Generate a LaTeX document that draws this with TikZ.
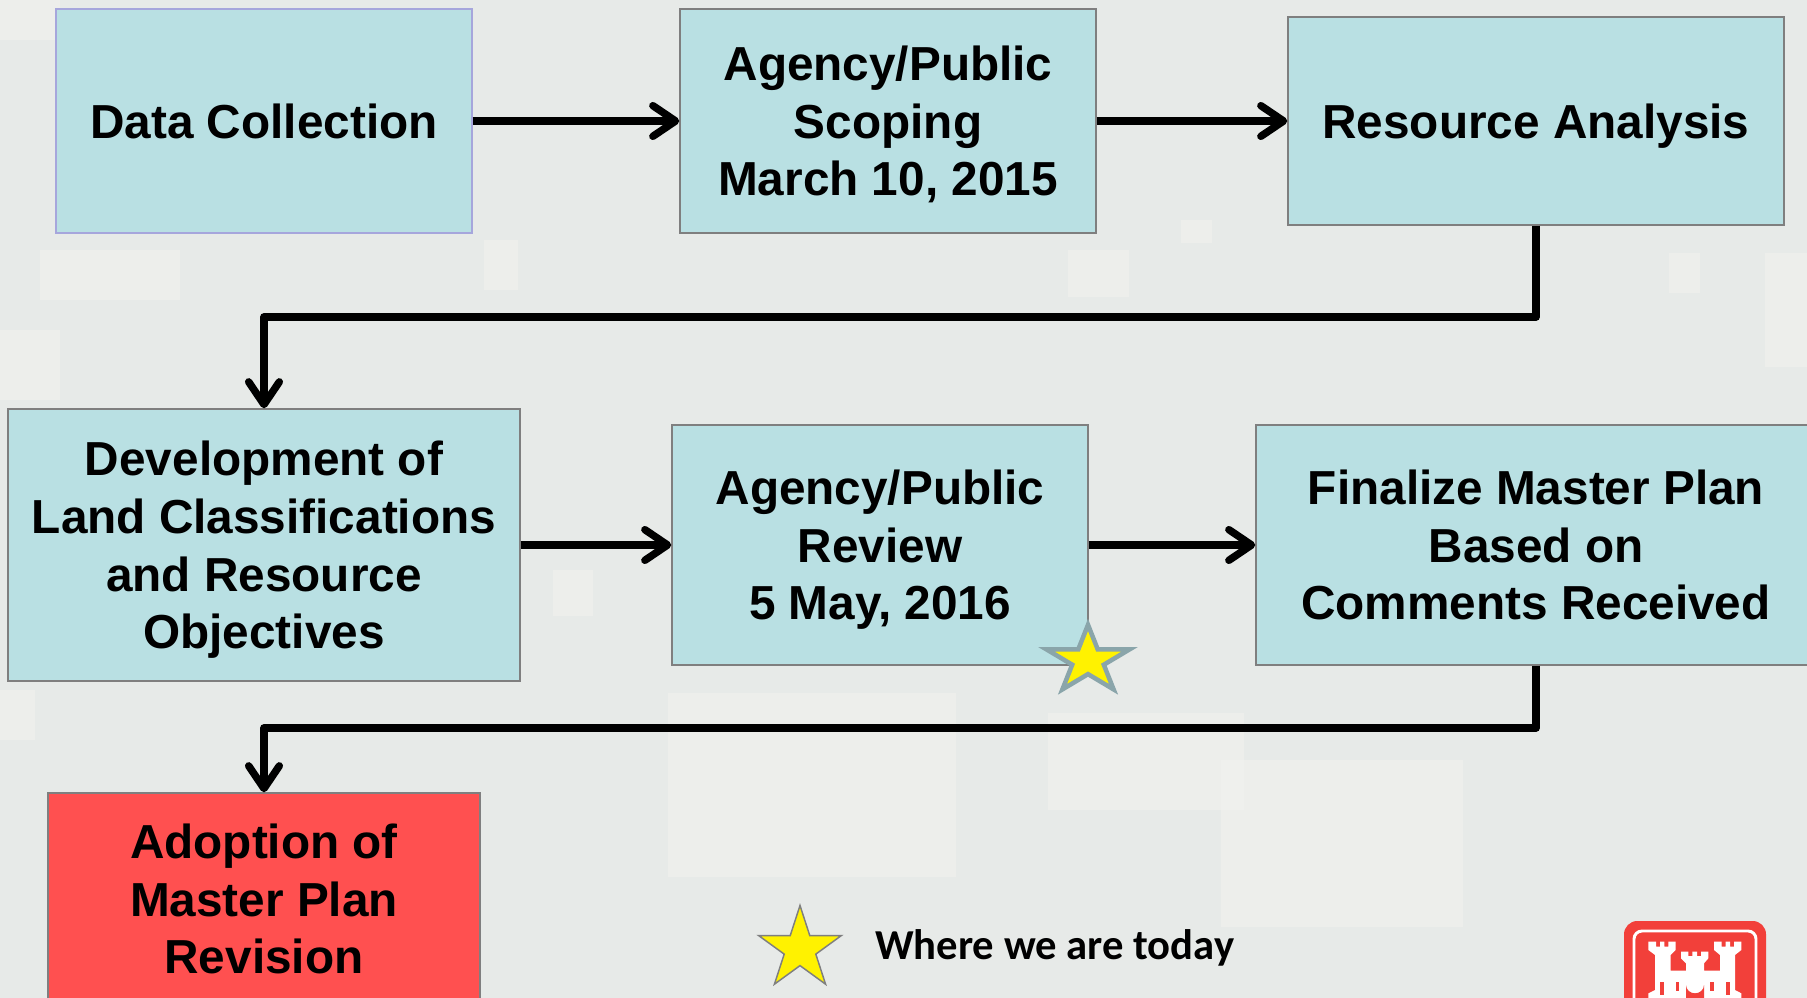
\documentclass[tikz,border=0pt]{standalone}
\usepackage{fontspec}
\setmainfont{Liberation Sans}
\newfontfamily\legendfont{Carlito}
\usetikzlibrary{shapes.geometric, arrows.meta, positioning}
\definecolor{boxblue}{HTML}{B9E0E3}
\definecolor{boxred}{HTML}{FF5050}
\definecolor{boxedge}{HTML}{7F7F7F}
\definecolor{firstedge}{HTML}{A6A6DC}
\definecolor{camobase}{HTML}{E7EAE8}
\definecolor{camolight}{HTML}{F2F3EF}
\definecolor{starteal}{HTML}{8AA5AA}
\definecolor{castlered}{HTML}{F2403A}

\begin{document}
\begin{tikzpicture}[x=0.75pt,y=-0.75pt]
\useasboundingbox (0,0) rectangle (1807,998);
\clip (0,0) rectangle (1807,998);
\tikzset{
    stepbox/.style={shape=rectangle, draw=boxedge, line width=1.1pt, fill=boxblue,
        align=center, inner sep=0pt, text depth=-2pt, font=\fontsize{35.8}{43.2}\selectfont\bfseries},
    flowline/.style={draw=black, line width=5.6pt, line join=round,
        -{Straight Barb[round,length=17pt,width=23pt]}},
    todaystar/.style={shape=star, star points=5, star point ratio=2.618, inner sep=0pt, outer sep=0pt, fill=yellow}
}

% background
\fill[camobase] (0,0) rectangle (1807,998);
\foreach \xa/\ya/\xb/\yb in {668/693/956/877, 1048/713/1244/810, 1221/760/1463/927, 0/690/35/740,
    1068/250/1129/297, 1765/253/1807/367, 1669/253/1700/293, 484/240/518/290, 1181/220/1212/243,
    0/330/60/400, 553/570/593/616, 40/250/180/300, 0/0/60/40}
    \fill[camolight, fill opacity=0.55] (\xa,\ya) rectangle (\xb,\yb);

\node[stepbox, draw=firstedge, minimum width=416*0.75pt, minimum height=224*0.75pt] (data) at (264,121) {Data Collection};
\node[stepbox, minimum width=416*0.75pt, minimum height=224*0.75pt] (scoping) at (888,121) {Agency/Public\\Scoping\\March 10, 2015};
\node[stepbox, minimum width=496*0.75pt, minimum height=208*0.75pt] (resource) at (1536,121) {Resource Analysis};
\node[stepbox, minimum width=512*0.75pt, minimum height=272*0.75pt] (landclass) at (264,545) {Development of\\Land Classifications\\and Resource\\Objectives};
\node[stepbox, minimum width=416*0.75pt, minimum height=240*0.75pt] (review) at (880,545) {Agency/Public\\Review\\5 May, 2016};
\node[stepbox, minimum width=560*0.75pt, minimum height=240*0.75pt] (finalize) at (1536,545) {Finalize Master Plan\\Based on\\Comments Received};
\node[stepbox, fill=boxred, text depth=0pt, minimum width=432*0.75pt, minimum height=212*0.75pt] (adoption) at (264,899) {Adoption of\\Master Plan\\Revision};

\draw[flowline] (data.east) -- (scoping.west);
\draw[flowline] (scoping.east) -- (resource.west);
\draw[flowline] (resource.south) -- (resource.south |- 0,317) -| (landclass.north);
\draw[flowline] (landclass.east) -- (review.west);
\draw[flowline] (review.east) -- (finalize.west);
\draw[flowline] (finalize.south) -- (finalize.south |- 0,728) -| (adoption.north);

\node[todaystar, draw=starteal, line width=3.4pt, minimum size=87*0.75pt, yscale=0.82, transform shape] (reviewstar) at (1088,660.5) {};
\node[todaystar, draw=boxedge, line width=1.1pt, minimum size=87*0.75pt] (legendstar) at (800,949) {};
\node[font=\legendfont\fontsize{32}{38}\selectfont\bfseries, inner sep=0pt, anchor=west] (legend) at (875,948) {Where we are today};

% castle
\fill[castlered, rounded corners=10pt] (1624,921) rectangle (1766,1040);
\draw[white, line width=2.2pt, rounded corners=6pt] (1634,931) rectangle (1756,1040);
\begin{scope}[shift={(1580,900)}, x=0.25pt, y=-0.25pt]
    \fill[white] (205,125) -- (228,125) -- (228,140) -- (240,140) -- (240,125) -- (253,125) -- (253,140) -- (265,140) -- (265,125) -- (287,125)
        -- (287,150) -- (272,165) -- (272,212) -- (318,212) -- (318,190) -- (303,175) -- (303,155) -- (325,155) -- (325,168) -- (337,168) -- (337,155)
        -- (351,155) -- (351,168) -- (363,168) -- (363,155) -- (385,155) -- (385,175) -- (372,190) -- (372,212) -- (420,212) -- (420,165) -- (402,150)
        -- (402,125) -- (425,125) -- (425,140) -- (437,140) -- (437,125) -- (450,125) -- (450,140) -- (462,140) -- (462,125) -- (484,125) -- (484,150)
        -- (465,165) -- (465,270) -- (484,280) -- (484,320) -- (205,320) -- (205,280) -- (225,270) -- (225,165) -- (205,150) -- cycle;
    \fill[castlered] (318,320) -- (318,255) arc[start angle=180, end angle=0, x radius=27, y radius=25] -- (372,320) -- cycle;
    \fill[castlered] (240,245) rectangle (252,285);
    \fill[castlered] (287,245) rectangle (298,272);
    \fill[castlered] (390,245) rectangle (402,272);
    \fill[castlered] (437,245) rectangle (449,285);
\end{scope}
\end{tikzpicture}
\end{document}
